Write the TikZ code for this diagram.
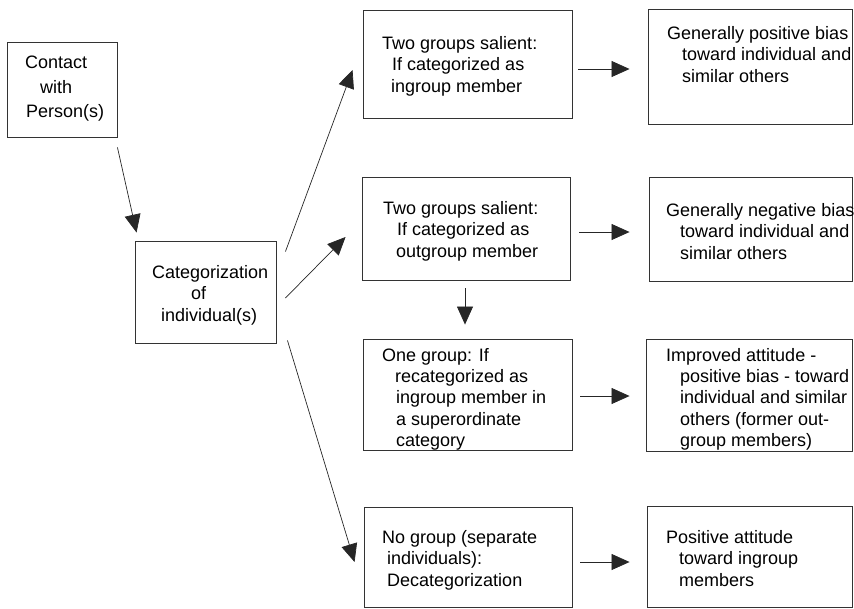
\documentclass[tikz,border=0pt]{standalone}
\usepackage{fontspec}
\setmainfont{Liberation Sans}
\usetikzlibrary{arrows.meta,calc}
\begin{document}
\begin{tikzpicture}[x=1pt,y=-1pt,
  box/.style={draw=black!80,line width=0.9pt,rectangle,inner sep=0pt},
  txt/.style={anchor=north west,inner sep=0pt,align=left,text=black,font=\fontsize{18}{21.7}\selectfont},
  arr/.style={draw=black!85,line width=0.7pt,-{Triangle[length=18pt,width=16pt]}}]
\useasboundingbox (0,0) rectangle (854,608);
% boxes
\node[box,minimum width=110pt,minimum height=95pt]  (b1)  at (62,89.5) {};
\node[box,minimum width=141pt,minimum height=102pt] (b2)  at (205.5,292) {};
\node[box,minimum width=209pt,minimum height=108pt] (b3)  at (467.5,64) {};
\node[box,minimum width=204pt,minimum height=115pt] (b4)  at (750,66.5) {};
\node[box,minimum width=208pt,minimum height=103pt] (b5)  at (466,228.5) {};
\node[box,minimum width=203pt,minimum height=104pt] (b6)  at (750.5,229) {};
\node[box,minimum width=209pt,minimum height=111pt] (b7)  at (467.5,394.5) {};
\node[box,minimum width=206pt,minimum height=112pt] (b8)  at (749,395) {};
\node[box,minimum width=208pt,minimum height=100pt] (b9)  at (468,557) {};
\node[box,minimum width=205pt,minimum height=101pt] (b10) at (749.5,556.5) {};
% texts
\node[txt,font=\fontsize{18}{24.5}\selectfont] (t1) at (25,56) {Contact\\\hspace*{15pt}with\\\hspace*{1pt}Person(s)};
\node[txt] (t2) at (152,265) {Categorization\\\hspace*{39pt}of\\\hspace*{9pt}individual(s)};
\node[txt] (t3) at (382,36) {Two groups salient:\\\hspace*{10pt}If categorized as\\\hspace*{9pt}ingroup member};
\node[txt] (t4) at (667,26) {Generally positive bias\\\hspace*{15pt}toward individual and\\\hspace*{15pt}similar others};
\node[txt] (t5) at (383,201) {Two groups salient:\\\hspace*{14pt}If categorized as\\\hspace*{13pt}outgroup member};
\node[txt] (t6) at (666,203) {Generally negative bias\\\hspace*{14pt}toward individual and\\\hspace*{14pt}similar others};
\node[txt,font=\fontsize{18}{21.3}\selectfont] (t7) at (382,348) {One group: If\\\hspace*{13pt}recategorized as\\\hspace*{14pt}ingroup member in\\\hspace*{14pt}a superordinate\\\hspace*{14pt}category};
\node[txt,font=\fontsize{18}{21.3}\selectfont] (t8) at (666,348) {Improved attitude -\\\hspace*{14pt}positive bias - toward\\\hspace*{14pt}individual and similar\\\hspace*{14pt}others (former out-\\\hspace*{14pt}group members)};
\node[txt] (t9) at (382,530) {No group (separate\\\hspace*{5pt}individuals):\\\hspace*{5pt}Decategorization};
\node[txt] (t10) at (666,530) {Positive attitude\\\hspace*{13pt}toward ingroup\\\hspace*{13pt}members};
% connectors
\draw[arr] ($(b1.south east)+(0,10)$) -- ($(b2.north west)+(2,-8)$);
\draw[arr] ($(b2.north east)+(9,11)$) -- ($(b3.west)+(-10,6)$);
\draw[arr] ($(b2.east)+(9,6)$) -- ($(b5.west)+(-16,8.5)$);
\draw[arr] ($(b2.south east)+(11,-3)$) -- ($(b9.west)+(-9,5)$);
\draw[arr] ($(b3.east)+(6,5)$) -- ($(b4.west)+(-18,2.5)$);
\draw[arr] ($(b5.east)+(9,3.5)$) -- ($(b6.west)+(-19,3)$);
\draw[arr] ($(b7.east)+(8,1.5)$) -- ($(b8.west)+(-16,1)$);
\draw[arr] ($(b9.east)+(8,5)$) -- ($(b10.west)+(-17,5.5)$);
\draw[arr] ($(b5.south)+(-1,8)$) -- ($(b7.north)+(-2.5,-14)$);
\end{tikzpicture}
\end{document}
